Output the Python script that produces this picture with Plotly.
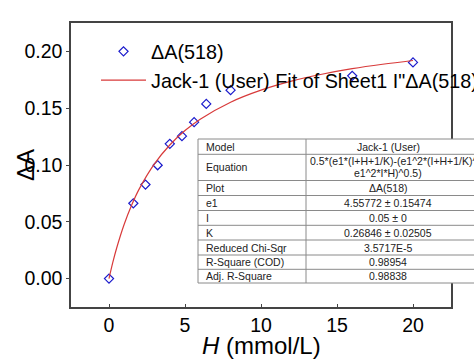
import plotly.graph_objects as go

# ---- data ----
H_data = [0, 1.6, 2.4, 3.2, 4.0, 4.8, 5.6, 6.4, 8.0, 16.0, 20.0]
dA_data = [0.0, 0.0663, 0.0828, 0.0998, 0.1186, 0.1254, 0.1377, 0.1538, 0.1659, 0.1785, 0.1903]

fit_H = [0, 0.25, 0.5, 1, 1.5, 2, 3, 4, 5, 6, 8, 10, 12, 14, 16, 18, 20]
fit_A = [0.0, 0.0142, 0.0267, 0.0478, 0.0650, 0.0792, 0.1012, 0.1176, 0.1303, 0.1403,
         0.1553, 0.1659, 0.1738, 0.1799, 0.1848, 0.1887, 0.1920]

x_ticks = [0, 5, 10, 15, 20]
y_ticks = [0.00, 0.05, 0.10, 0.15, 0.20]
y_tick_labels = ["0.00", "0.05", "0.10", "0.15", "0.20"]

table_labels = ["Model", "Equation", "Plot", "e1", "I", "K",
                "Reduced Chi-Sqr", "R-Square (COD)", "Adj. R-Square"]
table_values = ["Jack-1 (User)",
                "0.5*(e1*(I+H+1/K)-(e1^2*(I+H+1/K)^2-4*<br>e1^2*I*H)^0.5)",
                "ΔA(518)", "4.55772 ± 0.15474", "0.05 ± 0", "0.26846 ± 0.02505",
                "3.5717E-5", "0.98954", "0.98838"]

series_name = "ΔA(518)"
fit_name = 'Jack-1 (User) Fit of Sheet1 I"ΔA(518)"'

# ---- layout geometry (pixels) ----
W, H = 474, 361
ML, MR, MT, MB = 71, 23, 23, 54
PW, PH = W - ML - MR, H - MT - MB


def px(xp):
    return (xp - ML) / PW


def py(yp):
    return (H - MB - yp) / PH


FONT = "Arial, 'Liberation Sans', sans-serif"
TFONT = dict(family=FONT, size=10.5, color="#222")

fig = go.Figure()
fig.add_trace(go.Scatter(
    x=H_data, y=dA_data, mode="markers", name=series_name,
    marker=dict(symbol="diamond-open", size=7, color="#1a1acc", line=dict(width=1.2, color="#1a1acc")),
))
fig.add_trace(go.Scatter(
    x=fit_H, y=fit_A, mode="lines", name=fit_name, line_shape="spline",
    line=dict(color="#d83a3a", width=1.2),
))

# ---- table drawn with shapes + annotations ----
row_edges = [139, 154.3, 180.5, 195.5, 210.5, 225.3, 240, 255, 269.3, 283]
tx0, tx1, tx2 = 198, 306, 498
val_center = 388
shapes = [dict(type="rect", xref="paper", yref="paper",
               x0=px(tx0), x1=px(tx2), y0=py(row_edges[-1]), y1=py(row_edges[0]),
               fillcolor="white", line=dict(color="#8a8a8a", width=1), layer="above")]
for ye in row_edges[1:-1]:
    shapes.append(dict(type="line", xref="paper", yref="paper",
                       x0=px(tx0), x1=px(tx2), y0=py(ye), y1=py(ye),
                       line=dict(color="#8a8a8a", width=1), layer="above"))
shapes.append(dict(type="line", xref="paper", yref="paper",
                   x0=px(tx1), x1=px(tx1), y0=py(row_edges[-1]), y1=py(row_edges[0]),
                   line=dict(color="#8a8a8a", width=1), layer="above"))

annotations = []
for i, (lab, val) in enumerate(zip(table_labels, table_values)):
    yc = (row_edges[i] + row_edges[i + 1]) / 2
    annotations.append(dict(xref="paper", yref="paper", x=px(tx0 + 6), y=py(yc),
                            text=lab, showarrow=False, xanchor="left", yanchor="middle",
                            font=TFONT))
    if "<br>" in val:
        first, second = val.split("<br>")
        annotations.append(dict(xref="paper", yref="paper", x=px(tx1 + 2), y=py(yc - 6),
                                text=first, showarrow=False, xanchor="left", yanchor="middle",
                                font=TFONT))
        annotations.append(dict(xref="paper", yref="paper", x=px(val_center), y=py(yc + 6),
                                text=second, showarrow=False, xanchor="center", yanchor="middle",
                                font=TFONT))
    else:
        annotations.append(dict(xref="paper", yref="paper", x=px(val_center), y=py(yc),
                                text=val, showarrow=False, xanchor="center", yanchor="middle",
                                font=TFONT))

# axis titles
annotations.append(dict(xref="paper", yref="paper", x=0.5, y=py(345), text="<i>H</i> (mmol/L)",
                        showarrow=False, xanchor="center", yanchor="middle",
                        font=dict(family=FONT, size=24, color="black")))
annotations.append(dict(xref="paper", yref="paper", x=px(25), y=0.5, text="ΔA", textangle=-90,
                        showarrow=False, xanchor="center", yanchor="middle",
                        font=dict(family=FONT, size=24, color="black")))

axis_common = dict(showline=True, linecolor="#444", linewidth=1.5, mirror=True,
                   showgrid=False, zeroline=False, ticklen=3, tickcolor="#444",
                   tickfont=dict(family=FONT, size=19.5, color="black"))

fig.update_layout(
    width=W, height=H,
    margin=dict(l=ML, r=MR, t=MT, b=MB, autoexpand=False),
    paper_bgcolor="white", plot_bgcolor="white",
    xaxis=dict(range=[-2.5, 22.5], tickvals=x_ticks, ticks="inside", tickangle=0, **axis_common),
    yaxis=dict(range=[-0.025, 0.225], tickvals=y_ticks, ticktext=y_tick_labels,
               ticks="outside", **axis_common),
    legend=dict(x=px(96), y=py(32), xanchor="left", yanchor="top",
                bgcolor="rgba(0,0,0,0)", font=dict(family=FONT, size=19.8, color="black"),
                itemwidth=45),
    shapes=shapes, annotations=annotations,
    showlegend=True,
)

fig.write_html("out.html", config={"displayModeBar": False},
               post_script="document.body.style.margin='0';document.body.style.overflow='hidden';")
